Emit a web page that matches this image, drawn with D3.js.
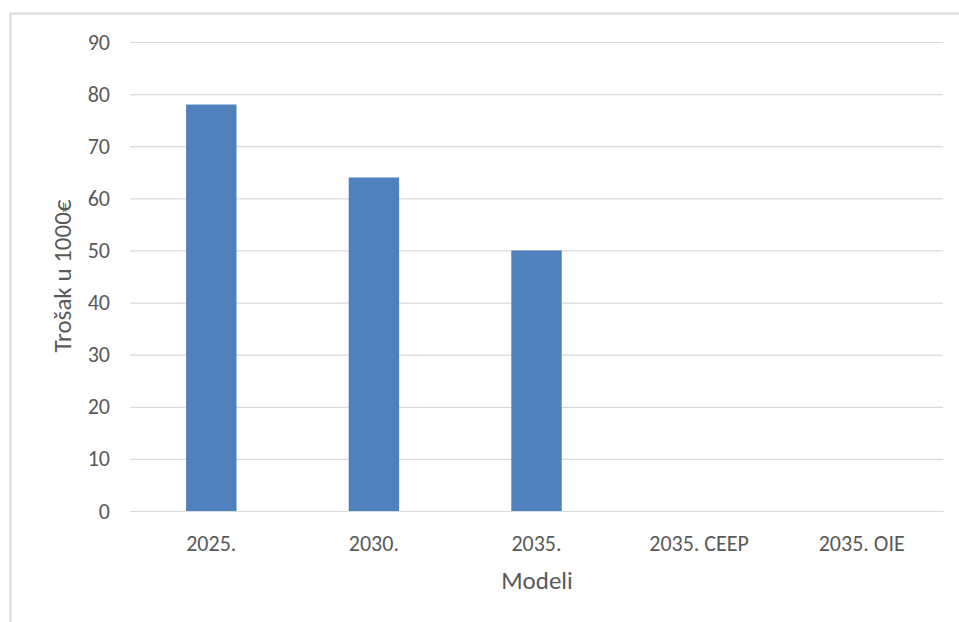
<!DOCTYPE html>
<html><head><meta charset="utf-8">
<script src="https://cdn.jsdelivr.net/npm/d3@7"></script>
<style>body{margin:0;background:#fff}svg{display:block}</style>
</head><body>
<svg id="c" width="959" height="622"></svg>
<script>
const categories = ["2025.", "2030.", "2035.", "2035. CEEP", "2035. OIE"];
const values = [78, 64, 50, 0, 0];
const yTicks = [0, 10, 20, 30, 40, 50, 60, 70, 80, 90];
const yTitle = "Trošak u 1000€";
const xTitle = "Modeli";

const svg = d3.select("#c");
const font = "Calibri, Carlito, Lato, sans-serif";
const m = {left: 130, right: 943, top: 42, bottom: 511};

svg.append("path").attr("d", "M10.5,622V13.5H959").attr("fill","none").attr("stroke","#d9d9d9").attr("stroke-width",2);

const x = d3.scaleBand().domain(categories).range([m.left, m.right]).paddingInner(0.69).paddingOuter(0.345);
const y = d3.scaleLinear().domain([0, 90]).range([m.bottom, m.top]);

const gy = svg.append("g").attr("transform", `translate(${m.left},0)`)
  .call(d3.axisLeft(y).tickValues(yTicks).tickSize(-(m.right - m.left)).tickPadding(20));
gy.select(".domain").remove();
gy.selectAll(".tick line").attr("stroke", "#d9d9d9").attr("stroke-width", 1.2);
gy.selectAll(".tick text").attr("fill", "#595959").style("font-family", font).style("font-size", "22px");

svg.append("g").selectAll("rect").data(values).join("rect")
  .attr("x", (d, i) => x(categories[i]))
  .attr("width", x.bandwidth())
  .attr("y", d => y(d))
  .attr("height", d => y(0) - y(d))
  .attr("fill", "#4f81bd");

const gx = svg.append("g").attr("transform", `translate(0,${m.bottom})`)
  .call(d3.axisBottom(x).tickSize(0).tickPadding(24));
gx.select(".domain").attr("stroke", "#d9d9d9").attr("stroke-width", 1.2);
gx.selectAll(".tick text").attr("fill", "#595959").style("font-family", font).style("font-size", "22px");

svg.append("text").attr("x", 537).attr("y", 589).attr("text-anchor", "middle")
  .attr("fill", "#595959").style("font-family", font).style("font-size", "25px").text(xTitle);
svg.append("text").attr("transform", "translate(71,276) rotate(-90)").attr("text-anchor", "middle")
  .attr("fill", "#595959").style("font-family", font).style("font-size", "25px").text(yTitle);
</script>
</body></html>
